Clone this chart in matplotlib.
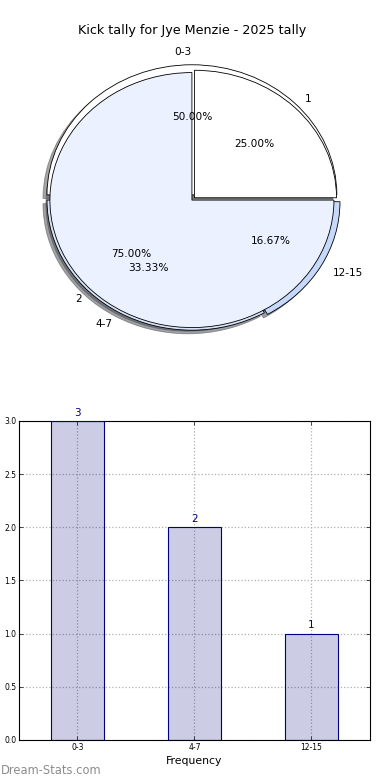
import numpy as np
import matplotlib
matplotlib.use('Agg')
import matplotlib.pyplot as plt

# Tally data
bins = ['0-3', '4-7', '12-15']
counts = [3, 2, 1]
group_labels = ['1', '2']
group_counts = [1, 3]

fig = plt.figure(figsize=(3.9, 7.8), dpi=100)

# Pie chart (two overlaid pies, as on the source page)
ax1 = fig.add_axes([0.0276, 0.535, 0.929, 0.417])
ax1.pie(counts, labels=bins, autopct='%1.2f%%', startangle=0,
        colors=['white', '#d6e3fa', '#c6d9fb'], explode=(0.04, 0.0, 0.025),
        shadow=True, wedgeprops={'edgecolor': 'black', 'linewidth': 0.6},
        textprops={'fontsize': 7.6})
ax1.pie(group_counts, labels=group_labels, autopct='%1.2f%%', startangle=0,
        radius=0.98, colors=['white', '#ebf1ff'], explode=(0.025, 0.0),
        shadow=True, wedgeprops={'edgecolor': 'black', 'linewidth': 0.6},
        textprops={'fontsize': 7.6})
ax1.set_aspect('auto')
ax1.set_xlim(-1.25, 1.25)
ax1.set_ylim(-1.25, 1.25)
ax1.set_title('Kick tally for Jye Menzie - 2025 tally', fontsize=9.2, pad=2)

# Bar chart
ax2 = fig.add_axes([0.0487, 0.0513, 0.9, 0.409])
x = np.arange(len(bins))
bars = ax2.bar(x, counts, width=0.45, facecolor=(0, 0, 0.5, 0.2),
               edgecolor='navy', linewidth=0.8, zorder=3)
for b, c in zip(bars, counts):
    ax2.text(b.get_x() + b.get_width() / 2, c + 0.03, str(c),
             ha='center', va='bottom', color='navy', fontsize=7.5)
ax2.set_xlim(-0.5, 2.5)
ax2.set_ylim(0, 3)
ax2.set_xticks(x)
ax2.set_xticklabels(bins)
ax2.set_yticks(np.arange(0, 3.01, 0.5))
ax2.tick_params(direction='in', labelsize=5.5, top=True, right=True,
                length=3, width=0.5, pad=2)
ax2.grid(True, linestyle=':', color='#b0b0b0', linewidth=0.9, zorder=0)
ax2.set_xlabel('Frequency', fontsize=7.8, labelpad=3)

fig.text(0.003, 0.012, 'Dream-Stats.com', fontsize=8.3, color='#8c8c8c',
         ha='left', va='center')

fig.savefig('out.png', dpi=100)
